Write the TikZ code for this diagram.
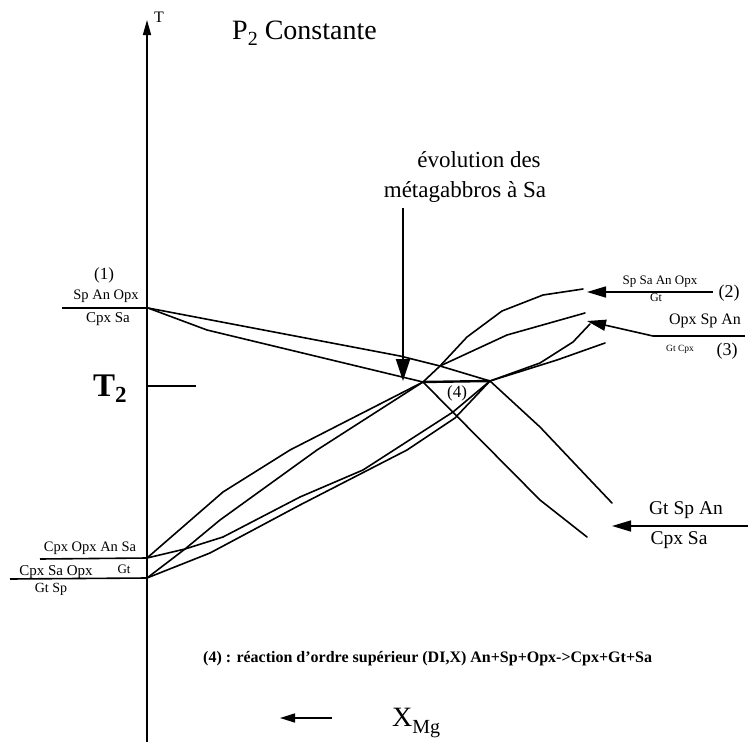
\documentclass[tikz,border=0pt]{standalone}
\usepackage{fontspec}
\setmainfont{Liberation Serif}
\usetikzlibrary{arrows.meta}
\newcommand{\fs}[1]{\fontsize{#1}{#1}\selectfont}
\begin{document}
\begin{tikzpicture}[x=1pt,y=-1pt,
  ln/.style={line width=1.6pt, line join=round, line cap=round},
  bar/.style={line width=1.6pt},
  lbl/.style={inner sep=0pt},
  tri/.style={-{Triangle[length=19pt,width=11pt]}},
  ]
\useasboundingbox (0,0) rectangle (748,742);

% axis
\coordinate (axB) at (147,742);
\coordinate (axT) at (147,20);
\draw[line width=1.5pt, -{Triangle[length=15pt,width=8pt]}] (axB) -- (axT);
\node[lbl, font=\fs{16}, anchor=base west] (tlab) at (154,22) {T};

% title
\node[lbl, font=\fs{28}, anchor=base west] (title) at (232,39) {P\raisebox{-6pt}{\fs{20}2} Constante};

% main points
\coordinate (P1) at (148,308);
\coordinate (I1) at (423,382);
\coordinate (I2) at (490,381);
\coordinate (X) at (440,366);
\coordinate (A) at (147,558);
\coordinate (B) at (147,578);

% evolution arrow
\node[lbl, font=\fs{23}, anchor=base] (evo1) at (479,167) {évolution des};
\node[lbl, font=\fs{23}, anchor=base] (evo2) at (465,197) {métagabbros à Sa};
\coordinate (evoTop) at (403,208);
\coordinate (evoTip) at (403,381);
\draw[line width=1.9pt, -{Triangle[length=22pt,width=14pt]}] (evoTop) -- (evoTip);

% label (1)
\node[lbl, font=\fs{17}] (n1) at (104,275) {(1)};
\node[lbl, font=\fs{14.5}] (r1a) at (106,296) {Sp An Opx};
\node[lbl, font=\fs{15}] (r1b) at (108,319) {Cpx Sa};
\coordinate (b1) at (62,308);
\draw[bar] (b1) -- (P1);

% T2
\node[lbl, font=\fs{33}\bfseries, anchor=base west] (t2) at (93,396) {T\raisebox{-6pt}{\fs{23}2}};
\coordinate (t2tick) at (196,386);
\draw[bar] (147,386) coordinate (t2ax) -- (t2tick);

% labels A and B
\node[lbl, font=\fs{14.5}] (rAa) at (90,548) {Cpx Opx An Sa};
\node[lbl, font=\fs{13}] (rAb) at (124,569) {Gt};
\coordinate (bA) at (40,559);
\draw[bar] (bA) -- (A);
\node[lbl, font=\fs{15}] (rBa) at (56,572) {Cpx Sa Opx};
\node[lbl, font=\fs{14}] (rBb) at (51,589) {Gt Sp};
\coordinate (bB) at (10,579);
\draw[bar] (bB) -- (B);

% curves from (1)
\draw[ln] (P1) -- (400,356) -- (X) -- (I2);
\draw[ln] (P1) -- (207,330) -- (I1);
% invariant segment
\draw[line width=2.4pt] (I1) -- (I2);
\node[lbl, font=\fs{17}] (n4) at (457,393) {(4)};

% down-right curves
\draw[ln] (I1) -- (540,500) -- (587,537);
\draw[ln] (I2) -- (540,427) -- (593,483) -- (612,503);

% up-right curves
\draw[ln] (I1) -- (X) -- (467,337) -- (502,311) -- (543,295) -- (583,289);
\draw[ln] (X) -- (507,335) -- (585,313);
\draw[ln] (I2) -- (540,363) -- (573,342) -- (590,324);
\draw[ln] (I2) -- (557,360) -- (605,343);

% curves from A and B
\draw[ln] (A) -- (223,492) -- (290,450) -- (I1);
\draw[ln] (B) -- (185,549) -- (220,520) -- (317,450) -- (I1);
\draw[ln] (A) -- (185,549) -- (223,537) -- (300,497) -- (363,470) -- (453,412) -- (I2);
\draw[ln] (B) -- (210,553) -- (300,505) -- (407,450) -- (455,418) -- (I2);

% label (2)
\node[lbl, font=\fs{13}] (r2a) at (660,282) {Sp Sa An Opx};
\node[lbl, font=\fs{12}] (r2b) at (656,298) {Gt};
\node[lbl, font=\fs{18}] (n2) at (729,293) {(2)};
\coordinate (a2s) at (713,292);
\coordinate (a2t) at (587,292);
\draw[bar, tri] (a2s) -- (a2t);

% label (3)
\node[lbl, font=\fs{16}] (r3a) at (705,321) {Opx Sp An};
\node[lbl, font=\fs{9.5}] (r3b) at (680,349) {Gt Cpx};
\node[lbl, font=\fs{18}] (n3) at (727,351) {(3)};
\coordinate (a3s) at (653,336);
\coordinate (a3e) at (745,336);
\coordinate (a3t) at (587,321);
\draw[bar] (a3s) -- (a3e);
\draw[bar, tri] (a3s) -- (a3t);

% label right
\node[lbl, font=\fs{19.5}] (rRa) at (686,510) {Gt Sp An};
\node[lbl, font=\fs{19.5}] (rRb) at (679,540) {Cpx Sa};
\coordinate (aRs) at (748,526);
\coordinate (aRt) at (612,526);
\draw[bar, tri] (aRs) -- (aRt);

% caption
\node[lbl, font=\fs{16}\bfseries, anchor=base west] (cap) at (203,662) {(4) : réaction d'ordre supérieur (DI,X) An+Sp+Opx->Cpx+Gt+Sa};

% X Mg
\node[lbl, font=\fs{28}, anchor=base west] (xmg) at (392,726) {X\raisebox{-7pt}{\fs{20}Mg}};
\coordinate (xas) at (332,718);
\coordinate (xat) at (280,718);
\draw[bar, -{Triangle[length=15pt,width=9pt]}] (xas) -- (xat);
\end{tikzpicture}
\end{document}
